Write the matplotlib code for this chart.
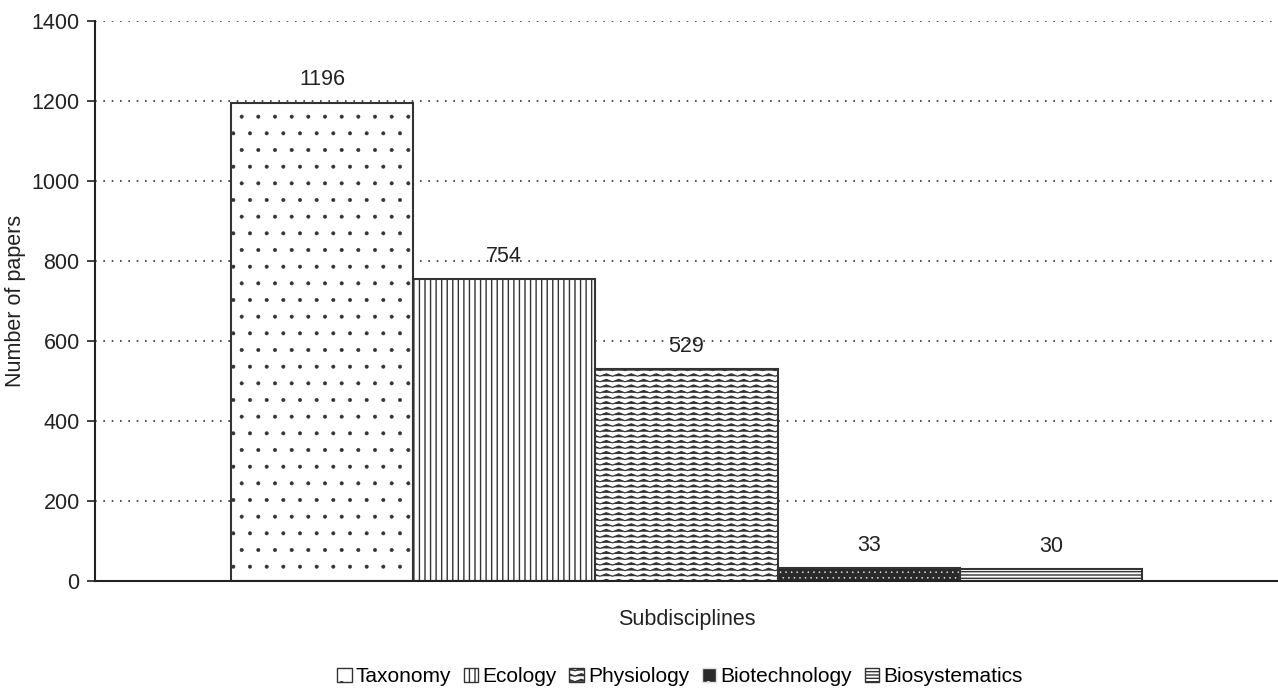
import numpy as np
import matplotlib.pyplot as plt
import matplotlib.hatch as mhatch
from matplotlib.path import Path
from matplotlib.patches import Patch

plt.rcParams['font.family'] = ['Liberation Sans', 'DejaVu Sans']
plt.rcParams['hatch.linewidth'] = 1.0


# wavy hatch for the Physiology bar ('~' in the hatch string)
class WaveHatch(mhatch.HatchPatternBase):
    periods = 8

    def __init__(self, hatch, density):
        self.num_lines = int(hatch.count('~') * density)
        self.num_vertices = self.num_lines * (2 * self.periods + 1)

    def set_vertices_and_codes(self, vertices, codes):
        n = 2 * self.periods + 1
        step = 1.0 / self.num_lines if self.num_lines else 1.0
        amp = step * 0.22
        xs = np.linspace(0.0, 1.0, n)
        for k in range(self.num_lines):
            y0 = (k + 0.5) * step
            ys = y0 + np.where(np.arange(n) % 2 == 0, -amp, amp)
            vertices[k * n:(k + 1) * n, 0] = xs
            vertices[k * n:(k + 1) * n, 1] = ys
            codes[k * n] = Path.MOVETO
            codes[k * n + 1:(k + 1) * n] = Path.LINETO


mhatch._hatch_types.append(WaveHatch)

# Data
subdisciplines = ['Taxonomy', 'Ecology', 'Physiology', 'Biotechnology', 'Biosystematics']
papers = [1196, 754, 529, 33, 30]
hatches = ['.', '|||', '~~~', '...', '-----']
y_ticks = [0, 200, 400, 600, 800, 1000, 1200, 1400]

fs = 15.5
fig = plt.figure(figsize=(12.78, 6.88), dpi=100)
ax = fig.add_axes([0.0743, 0.1555, 0.9257, 0.814])

bar_w = 0.154
n = len(subdisciplines)
handles = []
for i, (name, val, h) in enumerate(zip(subdisciplines, papers, hatches)):
    x = (i - (n - 1) / 2) * bar_w
    if name == 'Biotechnology':
        # dark fill with light dots
        b = ax.bar(x, val, width=bar_w, color='#2a2a2a', edgecolor='#e0e0e0', hatch=h, linewidth=0)
        ax.bar(x, val, width=bar_w, fill=False, edgecolor='#333333', linewidth=1.5)
        hp = Patch(facecolor='#2a2a2a', edgecolor='#e0e0e0', hatch='.', label=name)
    else:
        b = ax.bar(x, val, width=bar_w, color='white', edgecolor='#333333', hatch=h, linewidth=1.5)
        hp = Patch(facecolor='white', edgecolor='#333333', hatch=h, label=name)
    for p in b:
        if hasattr(p, 'set_hatch_linewidth'):
            if h in ('.', '...'):
                p.set_hatch_linewidth(0.4)
            elif h.startswith('~'):
                p.set_hatch_linewidth(0.8)
    handles.append(hp)
    ax.text(x, val + 57, str(val), ha='center', va='center', fontsize=fs, color='#222222')

ax.set_xlim(-0.5, 0.5)
ax.set_ylim(0, 1400)
ax.set_yticks(y_ticks)
ax.set_xticks([])
ax.tick_params(axis='y', labelsize=fs, length=6, width=1.2, colors='#222222', pad=5)
ax.yaxis.grid(True, linestyle=(0, (1, 4)), color='#333333', linewidth=1.2)
ax.set_axisbelow(True)
for s in ['top', 'right']:
    ax.spines[s].set_visible(False)
for s in ['left', 'bottom']:
    ax.spines[s].set_linewidth(1.5)
    ax.spines[s].set_color('#222222')

ax.set_ylabel('Number of papers', fontsize=fs, color='#222222', labelpad=4)
ax.set_xlabel('Subdisciplines', fontsize=fs, color='#222222', labelpad=20)

fig.legend(handles=handles, loc='center', bbox_to_anchor=(0.532, 0.016), ncol=5,
           frameon=False, fontsize=15, handlelength=0.7, handleheight=0.7,
           handletextpad=0.2, columnspacing=0.6, borderpad=0)

fig.savefig('out.png', dpi=100)
